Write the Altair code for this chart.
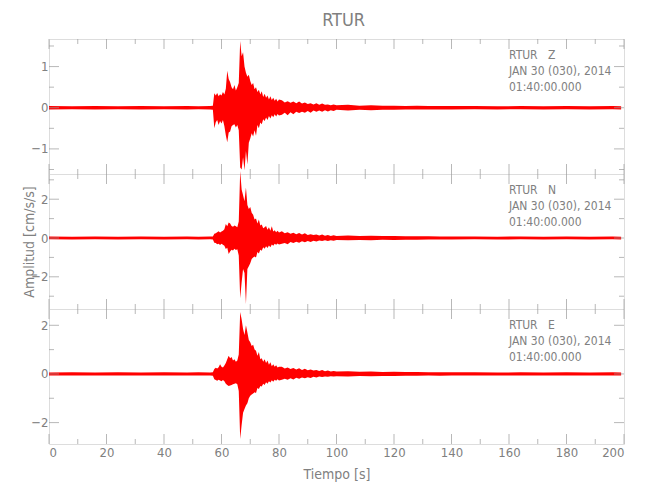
import altair as alt
import pandas as pd

# ---------------- data ----------------
STATION = "RTUR"
COMPONENTS = ["Z", "N", "E"]
DATE_LINE = "JAN 30 (030), 2014"
TIME_LINE = "01:40:00.000"

X_MAJOR = [0, 20, 40, 60, 80, 100, 120, 140, 160, 180, 200]
X_MINOR = [10, 30, 50, 70, 90, 110, 130, 150, 170, 190]

# sample times (s)
PRE_T = [0, 8, 16, 24, 32, 40, 48, 52, 56]
EVENT_T = [57.0, 57.5, 58.0, 58.5, 59.0, 59.5, 60.0, 60.5, 61.0, 61.5,
           62.0, 62.5, 63.0, 63.5, 64.0, 64.5, 65.0, 65.5, 66.0, 66.5,
           67.0, 67.5, 68.0, 68.5, 69.0, 69.5, 70.0, 70.5, 71.0, 71.5,
           72.0, 72.5, 73.0, 73.5, 74.0, 74.5, 75.0, 75.5, 76.0, 76.5,
           77.0, 77.5, 78.0, 78.5, 79.0, 79.5, 80.0]
POST_T = [81, 82, 83, 84, 85, 86, 87, 88, 89, 90,
          91, 92, 93, 94, 95, 96, 97, 98, 99, 100,
          104, 108, 112, 116, 120, 124, 128, 132, 136, 140,
          148, 156, 164, 172, 180, 188, 196, 199]

# ---- Z component envelope (cm/s/s) ----
Z_HI_PRE = [0.04, 0.035, 0.04, 0.035, 0.04, 0.035, 0.04, 0.035, 0.04]
Z_LO_PRE = [-0.04, -0.035, -0.04, -0.035, -0.04, -0.035, -0.04, -0.035, -0.04]
Z_HI_EV = [0.05, 0.35, 0.30, 0.36, 0.28, 0.33, 0.30, 0.38, 0.32, 0.46,
           0.90, 0.70, 0.62, 0.50, 0.45, 0.55, 0.42, 0.50, 0.60, 1.62,
           1.25, 1.35, 1.00, 0.85, 0.75, 0.80, 0.65, 0.55, 0.60, 0.45,
           0.50, 0.38, 0.44, 0.32, 0.40, 0.26, 0.34, 0.24, 0.30, 0.20,
           0.28, 0.19, 0.24, 0.17, 0.22, 0.15, 0.20]
Z_LO_EV = [-0.05, -0.50, -0.35, -0.30, -0.42, -0.32, -0.38, -0.30, -0.45, -0.67,
           -0.84, -0.60, -0.58, -0.45, -0.42, -0.40, -0.48, -0.42, -0.55, -1.45,
           -1.50, -1.20, -1.52, -1.05, -1.38, -0.85, -0.75, -0.62, -0.70, -0.55,
           -0.68, -0.42, -0.50, -0.36, -0.40, -0.28, -0.32, -0.24, -0.30, -0.20,
           -0.26, -0.18, -0.23, -0.16, -0.21, -0.15, -0.19]
Z_HI_POST = [0.18, 0.13, 0.16, 0.12, 0.15, 0.11, 0.15, 0.10, 0.13, 0.09,
             0.11, 0.08, 0.11, 0.07, 0.10, 0.07, 0.08, 0.06, 0.08, 0.06,
             0.07, 0.05, 0.06, 0.05, 0.05, 0.045, 0.05, 0.04, 0.045, 0.04,
             0.04, 0.035, 0.04, 0.035, 0.04, 0.035, 0.04, 0.035]
Z_LO_POST = [-0.17, -0.12, -0.18, -0.11, -0.16, -0.10, -0.13, -0.10, -0.12, -0.08,
             -0.12, -0.07, -0.10, -0.07, -0.10, -0.06, -0.09, -0.06, -0.08, -0.05,
             -0.07, -0.05, -0.06, -0.05, -0.05, -0.045, -0.04, -0.045, -0.04, -0.04,
             -0.035, -0.04, -0.035, -0.04, -0.035, -0.04, -0.035, -0.04]

# ---- N component envelope ----
N_HI_PRE = [0.08, 0.07, 0.08, 0.07, 0.08, 0.07, 0.08, 0.07, 0.08]
N_LO_PRE = [-0.07, -0.08, -0.07, -0.08, -0.07, -0.08, -0.07, -0.08, -0.07]
N_HI_EV = [0.08, 0.22, 0.25, 0.30, 0.35, 0.28, 0.33, 0.38, 0.45, 0.72,
           0.60, 0.80, 0.75, 0.62, 0.58, 0.65, 0.60, 0.55, 0.85, 3.45,
           2.50, 2.20, 1.90, 2.60, 1.70, 1.50, 1.60, 1.30, 1.20, 0.95,
           1.00, 0.75, 0.95, 0.65, 0.70, 0.50, 0.55, 0.62, 0.42, 0.55,
           0.38, 0.60, 0.34, 0.40, 0.30, 0.38, 0.28]
N_LO_EV = [-0.08, -0.24, -0.26, -0.32, -0.30, -0.36, -0.30, -0.35, -0.40, -0.57,
           -0.50, -0.82, -0.70, -0.60, -0.65, -0.55, -0.62, -0.58, -0.90, -3.10,
           -2.30, -1.60, -1.80, -3.40, -1.60, -1.45, -1.30, -1.08, -1.00, -0.95,
           -1.00, -0.72, -0.80, -0.60, -0.66, -0.48, -0.55, -0.42, -0.52, -0.38,
           -0.48, -0.34, -0.40, -0.30, -0.35, -0.28, -0.34]
N_HI_POST = [0.35, 0.24, 0.30, 0.22, 0.27, 0.20, 0.26, 0.18, 0.25, 0.16,
             0.20, 0.15, 0.18, 0.13, 0.18, 0.12, 0.15, 0.11, 0.14, 0.11,
             0.13, 0.10, 0.12, 0.10, 0.10, 0.09, 0.09, 0.085, 0.08, 0.08,
             0.08, 0.07, 0.08, 0.07, 0.08, 0.07, 0.08, 0.07]
N_LO_POST = [-0.30, -0.26, -0.32, -0.20, -0.26, -0.19, -0.24, -0.17, -0.22, -0.15,
             -0.20, -0.14, -0.18, -0.13, -0.16, -0.12, -0.15, -0.11, -0.14, -0.10,
             -0.12, -0.10, -0.11, -0.09, -0.10, -0.09, -0.085, -0.08, -0.08, -0.08,
             -0.07, -0.08, -0.07, -0.08, -0.07, -0.08, -0.07, -0.08]

# ---- E component envelope ----
E_HI_PRE = [0.06, 0.065, 0.06, 0.065, 0.06, 0.065, 0.06, 0.065, 0.06]
E_LO_PRE = [-0.065, -0.06, -0.065, -0.06, -0.065, -0.06, -0.065, -0.06, -0.065]
E_HI_EV = [0.07, 0.20, 0.25, 0.22, 0.28, 0.40, 0.30, 0.27, 0.35, 0.45,
           0.60, 0.75, 0.65, 0.70, 0.55, 0.60, 0.50, 0.55, 0.80, 2.55,
           2.25, 1.85, 1.60, 2.00, 1.70, 1.40, 1.30, 1.15, 1.20, 1.00,
           0.95, 0.75, 0.90, 0.60, 0.65, 0.50, 0.60, 0.45, 0.55, 0.38,
           0.48, 0.32, 0.40, 0.30, 0.36, 0.26, 0.30]
E_LO_EV = [-0.07, -0.22, -0.25, -0.28, -0.24, -0.27, -0.30, -0.25, -0.30, -0.40,
           -0.45, -0.50, -0.48, -0.45, -0.42, -0.40, -0.38, -0.42, -0.70, -2.67,
           -2.10, -1.60, -1.44, -1.30, -1.20, -1.00, -0.90, -0.85, -0.80, -0.75,
           -0.78, -0.58, -0.62, -0.50, -0.52, -0.40, -0.45, -0.34, -0.40, -0.30,
           -0.35, -0.26, -0.32, -0.24, -0.28, -0.22, -0.27]
E_HI_POST = [0.30, 0.22, 0.26, 0.20, 0.24, 0.18, 0.23, 0.16, 0.21, 0.15,
             0.18, 0.14, 0.16, 0.12, 0.16, 0.11, 0.14, 0.10, 0.12, 0.10,
             0.11, 0.09, 0.10, 0.08, 0.09, 0.075, 0.08, 0.07, 0.07, 0.065,
             0.065, 0.06, 0.065, 0.06, 0.065, 0.06, 0.065, 0.06]
E_LO_POST = [-0.24, -0.20, -0.24, -0.18, -0.23, -0.16, -0.20, -0.15, -0.18, -0.14,
             -0.17, -0.12, -0.15, -0.11, -0.13, -0.10, -0.12, -0.09, -0.11, -0.09,
             -0.10, -0.08, -0.09, -0.08, -0.08, -0.07, -0.07, -0.065, -0.07, -0.06,
             -0.06, -0.065, -0.06, -0.065, -0.06, -0.065, -0.06, -0.065]

# y ranges and ticks per panel
Z_DOMAIN = [-1.61, 1.67]
N_DOMAIN = [-3.66, 3.30]
E_DOMAIN = [-2.88, 2.67]
Z_MAJOR, Z_MINOR = [-1, 0, 1], [-1.5, -0.5, 0.5, 1.5]
N_MAJOR, N_MINOR = [-2, 0, 2], [-3, -1, 1, 3]
E_MAJOR, E_MINOR = [-2, 0, 2], [-1, 1]

# ---------------- styling ----------------
FONT = "Liberation Sans Narrow, DejaVu Sans Condensed, Liberation Sans, sans-serif"
TEXT = "#808080"
LINE = "#9a9a9a"
RED = "#ff0000"
W, H = 575, 135

TIME = PRE_T + EVENT_T + POST_T
XS = alt.Scale(domain=[0, 200], nice=False, zero=False)

AXIS_STYLE = dict(labelFont=FONT, labelFontSize=13, labelColor=TEXT,
                  titleFont=FONT, titleFontSize=14, titleColor=TEXT,
                  titleFontWeight="normal", tickSize=0, domain=False, grid=False)


def yticks(vals, at, size, off, ys, xaxis, yaxis):
    d = pd.DataFrame({"v": vals})
    return alt.Chart(d).mark_tick(orient="horizontal", size=size, thickness=1,
                                  color=LINE, xOffset=off).encode(
        x=alt.XDatum(at, scale=XS, axis=xaxis),
        y=alt.Y("v:Q", scale=ys, axis=yaxis))


def xticks(vals, at, size, off, ys, xaxis, yaxis):
    d = pd.DataFrame({"v": vals})
    return alt.Chart(d).mark_tick(orient="vertical", size=size, thickness=1,
                                  color=LINE, yOffset=off).encode(
        x=alt.X("v:Q", scale=XS, axis=xaxis),
        y=alt.YDatum(at, scale=ys, axis=yaxis))


def panel(comp, hi, lo, dom, major, minor, ytitle=None, show_x=False):
    ys = alt.Scale(domain=dom, nice=False, zero=False)
    df = pd.DataFrame({"t": TIME, "hi": hi, "lo": lo})
    yaxis = alt.Axis(values=major, labelPadding=1, title=ytitle,
                     titlePadding=-6, **AXIS_STYLE)
    if show_x:
        xaxis = alt.Axis(values=X_MAJOR, labelPadding=2, title="Tiempo [s]",
                         titlePadding=8, **AXIS_STYLE)
    else:
        xaxis = None
    area = alt.Chart(df).mark_area(color=RED, interpolate="linear").encode(
        x=alt.X("t:Q", scale=XS, axis=xaxis),
        y=alt.Y("hi:Q", scale=ys, axis=yaxis), y2="lo:Q")
    label = f"{STATION}\u00a0\u00a0\u00a0{comp}\n{DATE_LINE}\n{TIME_LINE}"
    txt = alt.Chart(pd.DataFrame({"label": [label]})).mark_text(
        align="left", baseline="top", lineBreak="\n", lineHeight=16,
        font=FONT, fontSize=12, color=TEXT).encode(
        x=alt.value(460), y=alt.value(11), text="label:N")
    a = (xaxis, yaxis)
    layers = [
        area,
        yticks(major, 0, 10, 5, ys, *a), yticks(minor, 0, 5, 2.5, ys, *a),
        yticks(major, 200, 10, -5, ys, *a), yticks(minor, 200, 5, -2.5, ys, *a),
        xticks(X_MAJOR, dom[1], 10, 5, ys, *a), xticks(X_MINOR, dom[1], 5, 2.5, ys, *a),
        xticks(X_MAJOR, dom[0], 10, -5, ys, *a), xticks(X_MINOR, dom[0], 5, -2.5, ys, *a),
        txt,
    ]
    return alt.layer(*layers).properties(width=W, height=H)


p1 = panel(COMPONENTS[0], Z_HI_PRE + Z_HI_EV + Z_HI_POST, Z_LO_PRE + Z_LO_EV + Z_LO_POST,
           Z_DOMAIN, Z_MAJOR, Z_MINOR)
p2 = panel(COMPONENTS[1], N_HI_PRE + N_HI_EV + N_HI_POST, N_LO_PRE + N_LO_EV + N_LO_POST,
           N_DOMAIN, N_MAJOR, N_MINOR, ytitle="Amplitud [cm/s/s]")
p3 = panel(COMPONENTS[2], E_HI_PRE + E_HI_EV + E_HI_POST, E_LO_PRE + E_LO_EV + E_LO_POST,
           E_DOMAIN, E_MAJOR, E_MINOR, show_x=True)

chart = alt.vconcat(p1, p2, p3, spacing=0, bounds="flush").properties(
    title=alt.TitleParams(STATION, fontSize=18, font=FONT, color=TEXT,
                          fontWeight="normal", anchor="middle", offset=9, dx=20),
    padding={"left": 14, "top": 3, "right": 10, "bottom": 5},
).configure_view(stroke=LINE, strokeWidth=1).configure(background="white")

chart.save("out.html", embed_options={"renderer": "svg", "actions": False})
